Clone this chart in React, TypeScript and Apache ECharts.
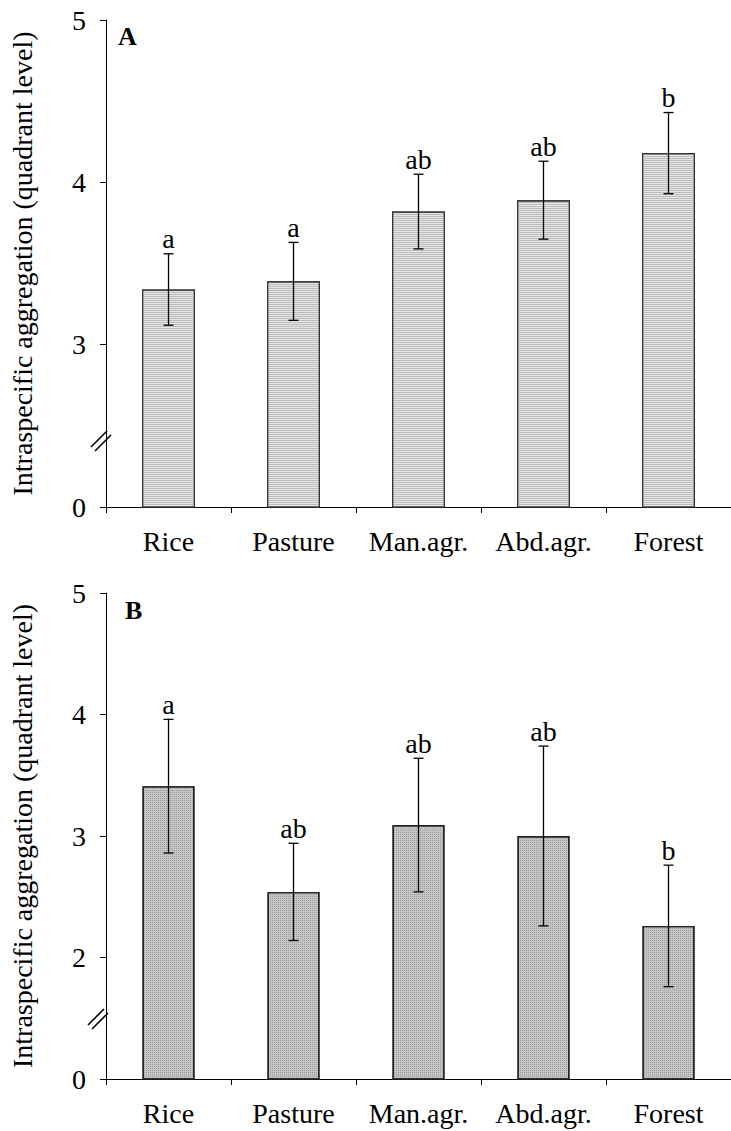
import React, { useEffect, useRef } from "react";
import * as echarts from "echarts";

const categories = ["Rice", "Pasture", "Man.agr.", "Abd.agr.", "Forest"];
const meanA = [3.34, 3.39, 3.82, 3.89, 4.18];
const errA = [0.22, 0.24, 0.23, 0.24, 0.25];
const lettersA = ["a", "a", "ab", "ab", "b"];
const meanB = [3.41, 2.54, 3.09, 3.0, 2.26];
const errB = [0.55, 0.4, 0.55, 0.74, 0.5];
const lettersB = ["a", "ab", "ab", "ab", "b"];
const yTickValuesA = [2, 3, 4, 5];
const yTickLabelsA = ["0", "3", "4", "5"];
const yTickValuesB = [1, 2, 3, 4, 5];
const yTickLabelsB = ["0", "2", "3", "4", "5"];
const panelLabels = ["A", "B"];
const yAxisTitle = "Intraspecific aggregation (quadrant level)";

const FONT = "Liberation Serif";
const FS = 28;

const gridA = { left: 101, top: 20, width: 638, height: 487 };
const gridB = { left: 98, top: 593, width: 643, height: 486 };

function tickFormatter(values: number[], labels: string[]) {
  return (v: number) => {
    const i = values.indexOf(v);
    return i >= 0 ? labels[i] : "";
  };
}

function errorSeries(idx: number, means: number[], errs: number[], letters: string[]) {
  return {
    type: "custom",
    xAxisIndex: idx,
    yAxisIndex: idx,
    z: 5,
    data: means.map((m, i) => [i, m, errs[i]]),
    encode: { x: 0, y: 1 },
    renderItem: (params: any, api: any) => {
      const x = api.value(0);
      const m = api.value(1);
      const e = api.value(2);
      const top = api.coord([x, m + e]);
      const bot = api.coord([x, m - e]);
      const half = 5;
      const ls = { stroke: "#000", lineWidth: 1.3 };
      return {
        type: "group",
        children: [
          { type: "line", shape: { x1: top[0], y1: top[1], x2: bot[0], y2: bot[1] }, style: ls },
          { type: "line", shape: { x1: top[0] - half, y1: top[1], x2: top[0] + half, y2: top[1] }, style: ls },
          { type: "line", shape: { x1: bot[0] - half, y1: bot[1], x2: bot[0] + half, y2: bot[1] }, style: ls },
          {
            type: "text",
            x: top[0],
            y: top[1] - 1,
            style: {
              text: letters[params.dataIndex],
              fill: "#000",
              fontSize: FS,
              fontFamily: FONT,
              align: "center",
              verticalAlign: "bottom",
            },
          },
        ],
      };
    },
  };
}

function breakMark(cx: number, cy: number) {
  const s = { stroke: "#000", lineWidth: 1.6 };
  return {
    type: "group",
    silent: true,
    children: [
      { type: "line", shape: { x1: cx - 10, y1: cy + 6, x2: cx + 6, y2: cy - 10 }, style: s },
      { type: "line", shape: { x1: cx - 6, y1: cy + 10, x2: cx + 10, y2: cy - 6 }, style: s },
    ],
  };
}

export default function App() {
  const ref = useRef<HTMLDivElement>(null);
  useEffect(() => {
    if (!ref.current) return;
    const chart = echarts.init(ref.current, undefined, { renderer: "svg" });
    const xAxisBase = (gridIndex: number) => ({
      type: "category",
      gridIndex,
      data: categories,
      boundaryGap: true,
      axisLine: { show: true, lineStyle: { color: "#000", width: 1 } },
      axisTick: { show: true, length: 6, lineStyle: { color: "#000" } },
      axisLabel: { color: "#000", fontSize: FS, fontFamily: FONT, margin: 20, interval: 0 },
      splitLine: { show: false },
    });
    const yAxisBase = (gridIndex: number, values: number[], labels: string[]) => ({
      type: "value",
      gridIndex,
      min: values[0],
      max: values[values.length - 1],
      interval: 1,
      axisLine: { show: true, lineStyle: { color: "#000", width: 1 } },
      axisTick: { show: true, length: 6, lineStyle: { color: "#000" } },
      axisLabel: {
        color: "#000",
        fontSize: FS,
        fontFamily: FONT,
        margin: 20,
        formatter: tickFormatter(values, labels),
      },
      splitLine: { show: false },
      name: yAxisTitle,
      nameLocation: "middle",
      nameGap: 70,
      nameTextStyle: { color: "#000", fontSize: FS, fontFamily: FONT },
    });
    chart.setOption({
      animation: false,
      backgroundColor: "#fff",
      textStyle: { fontFamily: FONT },
      grid: [gridA, gridB],
      xAxis: [xAxisBase(0), xAxisBase(1)],
      yAxis: [yAxisBase(0, yTickValuesA, yTickLabelsA), yAxisBase(1, yTickValuesB, yTickLabelsB)],
      series: [
        {
          type: "bar",
          xAxisIndex: 0,
          yAxisIndex: 0,
          data: meanA,
          barWidth: 53,
          itemStyle: {
            color: "#e6e6e6",
            borderColor: "#333",
            borderWidth: 1.2,
            decal: {
              symbol: "rect",
              symbolSize: 1,
              dashArrayX: [1, 0],
              dashArrayY: [1, 1],
              color: "rgba(150,150,150,0.55)",
              rotation: 0,
            },
          },
        },
        {
          type: "bar",
          xAxisIndex: 1,
          yAxisIndex: 1,
          data: meanB,
          barWidth: 52,
          itemStyle: {
            color: "#c4c4c4",
            borderColor: "#222",
            borderWidth: 1.4,
            decal: {
              symbol: "rect",
              symbolSize: 1,
              dashArrayX: [1, 1],
              dashArrayY: [1, 1],
              color: "rgba(120,120,120,0.5)",
              rotation: 0,
            },
          },
        },
        errorSeries(0, meanA, errA, lettersA),
        errorSeries(1, meanB, errB, lettersB),
      ],
      graphic: [
        {
          type: "text",
          left: gridA.left + 17,
          top: gridA.top + 3,
          style: { text: panelLabels[0], fill: "#000", fontSize: 26, fontWeight: "bold", fontFamily: FONT },
        },
        {
          type: "text",
          left: gridB.left + 27,
          top: gridB.top + 4,
          style: { text: panelLabels[1], fill: "#000", fontSize: 26, fontWeight: "bold", fontFamily: FONT },
        },
        breakMark(gridA.left, gridA.top + gridA.height - 66),
        breakMark(gridB.left, gridB.top + gridB.height - 60),
      ],
    });
    return () => chart.dispose();
  }, []);
  return (
    <div
      ref={ref}
      style={{ position: "absolute", left: 0, top: 0, width: 731, height: 1131, background: "#fff" }}
    />
  );
}
